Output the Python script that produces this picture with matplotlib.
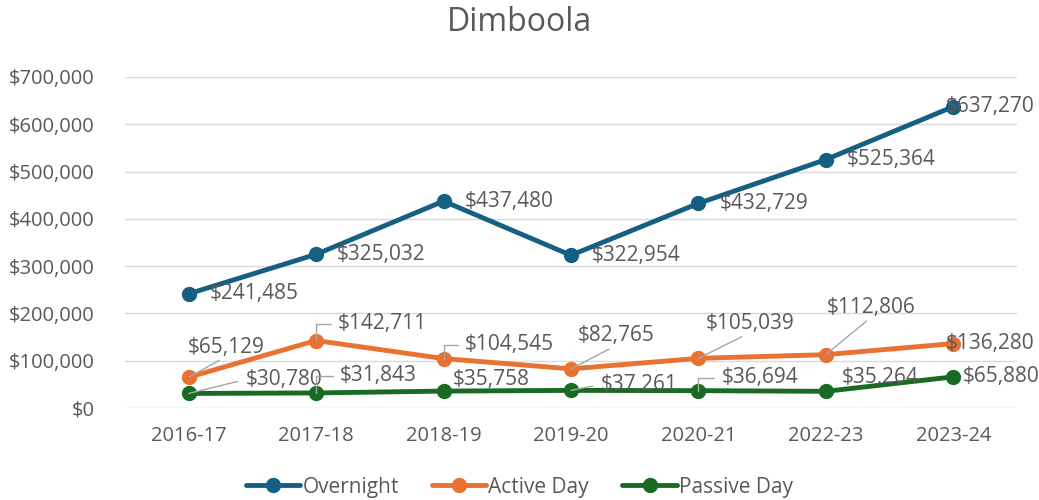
import matplotlib
matplotlib.use("Agg")
import matplotlib.pyplot as plt
from matplotlib.ticker import FuncFormatter

plt.rcParams['font.family'] = ['Open Sans', 'DejaVu Sans']

years = ['2016-17', '2017-18', '2018-19', '2019-20', '2020-21', '2022-23', '2023-24']
overnight = [241485, 325032, 437480, 322954, 432729, 525364, 637270]
active_day = [65129, 142711, 104545, 82765, 105039, 112806, 136280]
passive_day = [30780, 31843, 35758, 37261, 36694, 35264, 65880]

# label offsets in pixels (dx to text left, dy up to text centre), leader style
overnight_off = [(21, 0, None)] * 6 + [(-8, 0, None)]
active_off = [(-1, 30, 'diag'), (22, 17, 'elbow'), (21, 14, 'elbow'), (7, 33, 'diag'),
              (7, 35, 'diag'), (1, 47, 'diag'), (-8, 0, None)]
passive_off = [(57, 14, 'side'), (24, 17, 'elbow'), (9, 12, None), (30, 6, 'side'),
               (23, 13, 'elbow'), (16, 14, None), (9, 0, None)]

text_col = '#595959'
fig = plt.figure(figsize=(10.39, 5.0), dpi=100)
ax = fig.add_axes([0.1203, 0.184, 0.8585, 0.662])

series = [('Overnight', overnight, '#156082', overnight_off),
          ('Active Day', active_day, '#E97132', active_off),
          ('Passive Day', passive_day, '#196B24', passive_off)]

x = list(range(len(years)))
for name, vals, col, offs in series:
    ax.plot(x, vals, color=col, lw=3.5, marker='o', ms=10, label=name,
            solid_capstyle='round', zorder=3)
    for xi, v, (dx, dy, lead) in zip(x, vals, offs):
        kw = {}
        if lead == 'diag':
            kw['arrowprops'] = dict(arrowstyle='-', color='#A6A6A6', lw=1,
                                    shrinkA=0, shrinkB=0, relpos=(0.5, 0.05))
        elif lead == 'elbow':
            kw['arrowprops'] = dict(arrowstyle='-', color='#A6A6A6', lw=1,
                                    shrinkA=3, shrinkB=0, relpos=(0, 0.5),
                                    connectionstyle='angle,angleA=0,angleB=90,rad=0')
        elif lead == 'side':
            kw['arrowprops'] = dict(arrowstyle='-', color='#A6A6A6', lw=1,
                                    shrinkA=4, shrinkB=0, relpos=(0, 0.5))
        ax.annotate(f'${v:,.0f}', xy=(xi, v), xytext=(dx, dy),
                    textcoords='offset pixels', ha='left', va='center',
                    fontsize=15, color=text_col, zorder=4, **kw)

ax.set_xlim(-0.5, 6.5)
ax.set_ylim(0, 700000)
ax.set_yticks(range(0, 700001, 100000))
ax.yaxis.set_major_formatter(FuncFormatter(lambda v, p: f'${v:,.0f}'))
ax.set_xticks(x)
ax.set_xticklabels(years)
ax.tick_params(length=0, labelsize=14.5, colors=text_col)
ax.tick_params(axis='y', pad=22)
ax.tick_params(axis='x', pad=13)
ax.grid(axis='y', color='#D9D9D9', lw=1)
ax.set_axisbelow(True)
for s in ax.spines.values():
    s.set_visible(False)

fig.text(0.5, 0.955, 'Dimboola', ha='center', va='center', fontsize=23, color=text_col)
fig.legend(loc='center', bbox_to_anchor=(0.5, 0.026), ncol=3, frameon=False,
           fontsize=15, labelcolor=text_col, handlelength=2.6, columnspacing=1.6,
           handletextpad=0.1)

fig.savefig('out.png', dpi=100)
